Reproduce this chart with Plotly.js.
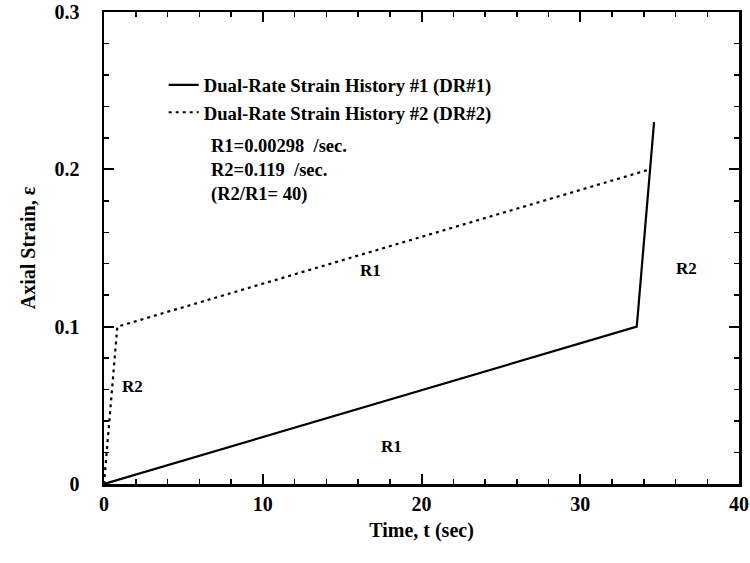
<!DOCTYPE html>
<html><head><meta charset="utf-8">
<script src="https://cdn.plot.ly/plotly-3.0.1.min.js"></script>
<style>body{margin:0}#c{width:750px;height:563px}</style>
</head><body><div id="c"></div>
<script>
const dr1_t = [0, 33.56, 34.65];
const dr1_e = [0, 0.1, 0.23];
const dr2_t = [0, 0.84, 34.4];
const dr2_e = [0, 0.1, 0.2];
const seriesNames = ["Dual-Rate Strain History #1 (DR#1)", "Dual-Rate Strain History #2 (DR#2)"];
const xTicks = [0, 10, 20, 30, 40];
const yTicks = [0, 0.1, 0.2, 0.3];
const yTickLabels = ["0", "0.1", "0.2", "0.3"];
const rateText = ["R1=0.00298  /sec.", "R2=0.119  /sec.", "(R2/R1= 40)"];
const segLabels = [
  {t: 16.8, e: 0.136, text: "R1"},
  {t: 18.1, e: 0.024, text: "R1"},
  {t: 1.8, e: 0.062, text: "R2"},
  {t: 36.7, e: 0.137, text: "R2"}
];

const F = "Liberation Serif, Times New Roman, serif";
const traces = [
  {x: dr1_t, y: dr1_e, mode: "lines", name: seriesNames[0], line: {color: "#000", width: 2.2}},
  {x: dr2_t, y: dr2_e, mode: "lines", name: seriesNames[1], line: {color: "#000", width: 2.2, dash: "3px,4px"}}
];
const ann = segLabels.map(s => ({x: s.t, y: s.e, xref: "x", yref: "y", text: s.text, showarrow: false,
  font: {family: F, size: 17, weight: "bold", color: "#000"}}));
ann.push({x: 0.166, y: 0.742, xref: "paper", yref: "paper", xanchor: "left", yanchor: "top", align: "left",
  showarrow: false, text: rateText.join("<br>"),
  font: {family: F, size: 18.5, weight: "bold", color: "#000"}});

const axCommon = {
  showgrid: false, zeroline: false, showline: true, linecolor: "#000", linewidth: 2.5, mirror: "ticks",
  ticks: "inside", ticklen: 10, tickwidth: 2, tickcolor: "black",
  tickfont: {family: F, size: 20, weight: "bold", color: "#000"}
};
const layout = {
  width: 750, height: 563,
  margin: {l: 104, r: 11, t: 12, b: 79},
  paper_bgcolor: "#fff", plot_bgcolor: "#fff",
  showlegend: true,
  legend: {x: 0.094, y: 0.885, xanchor: "left", yanchor: "top", bgcolor: "rgba(0,0,0,0)",
    font: {family: F, size: 18.7, weight: "bold", color: "#000"}, tracegroupgap: 0},
  xaxis: Object.assign({}, axCommon, {range: [0, 40], tickmode: "array", tickvals: xTicks, ticktext: xTicks.map(String),
    minor: {tickmode: "linear", tick0: 0, dtick: 2, ticks: "inside", ticklen: 5, tickcolor: "black", tickwidth: 1.5},
    title: {text: "Time, t (sec)", font: {family: F, size: 20, weight: "bold", color: "#000"}, standoff: 10}}),
  yaxis: Object.assign({}, axCommon, {range: [0, 0.3], tickmode: "array", tickvals: yTicks, ticktext: yTickLabels,
    ticklabelstandoff: 18,
    minor: {tickmode: "linear", tick0: 0, dtick: 0.02, ticks: "inside", ticklen: 5, tickcolor: "black", tickwidth: 1.5},
    title: {text: "Axial Strain, ε", font: {family: F, size: 20, weight: "bold", color: "#000"}, standoff: 14}}),
  annotations: ann
};
Plotly.newPlot("c", traces, layout, {displayModeBar: false, staticPlot: true});
</script></body></html>
